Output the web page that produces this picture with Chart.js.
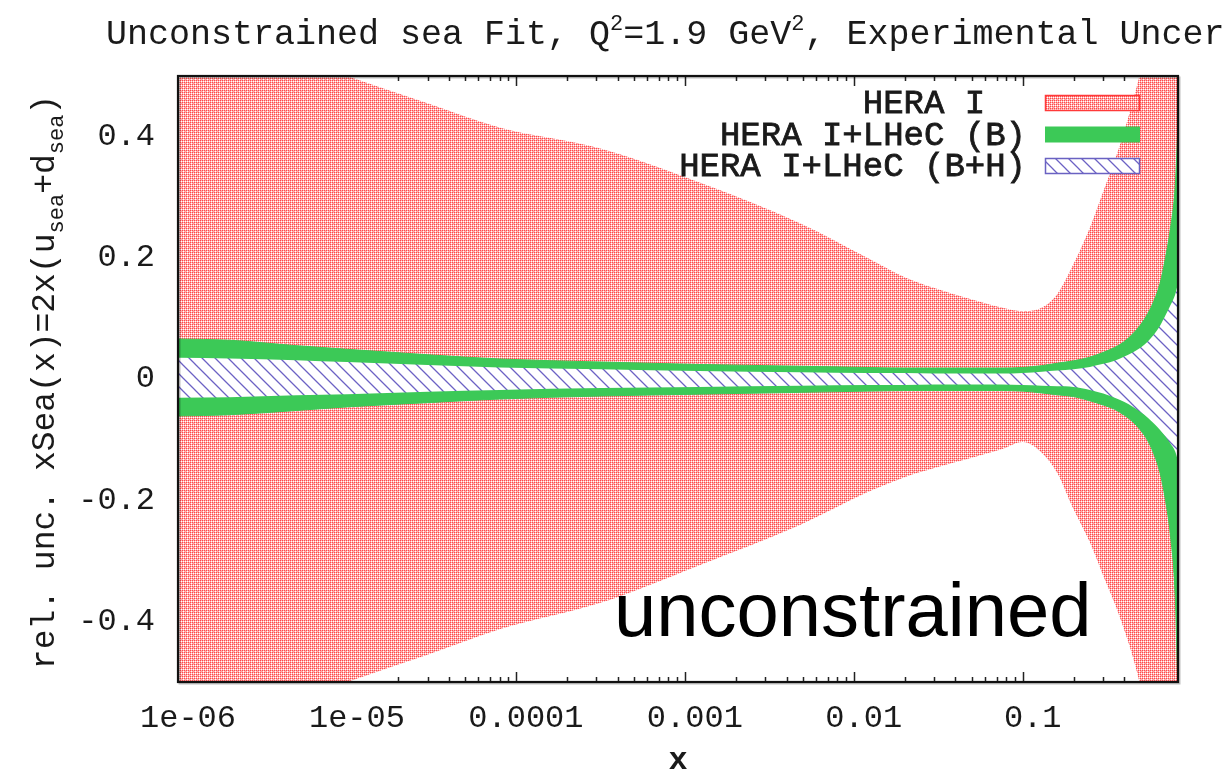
<!DOCTYPE html>
<html>
<head>
<meta charset="utf-8">
<script src="https://cdn.jsdelivr.net/npm/chart.js@4.4.1/dist/chart.umd.min.js"></script>
<style>
html,body{margin:0;padding:0;background:#ffffff;}
#wrap{width:1228px;height:773px;position:relative;}
</style>
</head>
<body>
<div id="wrap"><canvas id="c" width="1228" height="773"></canvas></div>
<script>
// ---- data ----
const xValues   = [1e-6, 2e-6, 5e-6, 1e-5, 3e-5, 8e-5, 3.2e-4, 1.2e-3, 4.8e-3, 0.012, 0.02, 0.03, 0.05, 0.075, 0.1, 0.13, 0.16, 0.2, 0.25, 0.3, 0.35, 0.4, 0.45, 0.5, 0.55, 0.6, 0.65, 0.7, 0.75, 0.8, 0.83];
const heraUpper = [0.60, 0.57, 0.53, 0.50, 0.455, 0.415, 0.38, 0.325, 0.257, 0.200, 0.168, 0.150, 0.131, 0.118, 0.112, 0.118, 0.140, 0.19, 0.25, 0.31, 0.36, 0.41, 0.46, 0.51, 0.57, 0.63, 0.70, 0.78, 0.86, 0.95, 1.0];
const heraLower = [-0.60, -0.57, -0.53, -0.50, -0.455, -0.413, -0.369, -0.308, -0.241, -0.187, -0.162, -0.147, -0.130, -0.116, -0.104, -0.122, -0.155, -0.215, -0.27, -0.325, -0.37, -0.415, -0.46, -0.51, -0.57, -0.63, -0.70, -0.78, -0.86, -0.95, -1.0];
const bUpper    = [0.066, 0.064, 0.055, 0.049, 0.040, 0.033, 0.028, 0.024, 0.021, 0.019, 0.018, 0.018, 0.018, 0.018, 0.019, 0.022, 0.026, 0.030, 0.036, 0.044, 0.052, 0.062, 0.075, 0.090, 0.108, 0.130, 0.158, 0.20, 0.25, 0.32, 0.42];
const bLower    = [-0.061, -0.059, -0.052, -0.046, -0.039, -0.033, -0.028, -0.025, -0.022, -0.020, -0.019, -0.019, -0.019, -0.019, -0.020, -0.023, -0.026, -0.029, -0.036, -0.043, -0.050, -0.060, -0.071, -0.085, -0.102, -0.125, -0.155, -0.20, -0.26, -0.36, -0.52];
const bhUpper   = [0.035, 0.034, 0.031, 0.028, 0.023, 0.019, 0.016, 0.013, 0.011, 0.010, 0.010, 0.009, 0.009, 0.009, 0.010, 0.012, 0.014, 0.016, 0.020, 0.025, 0.030, 0.037, 0.044, 0.052, 0.062, 0.074, 0.088, 0.105, 0.122, 0.14, 0.158];
const bhLower   = [-0.031, -0.030, -0.027, -0.025, -0.021, -0.018, -0.015, -0.013, -0.011, -0.010, -0.010, -0.009, -0.009, -0.009, -0.010, -0.011, -0.012, -0.013, -0.018, -0.024, -0.031, -0.038, -0.046, -0.055, -0.064, -0.074, -0.084, -0.095, -0.107, -0.12, -0.135];

const seriesLabels = ['HERA I  ', 'HERA I+LHeC (B)', 'HERA I+LHeC (B+H)'];
const xTickValues = [1e-6, 1e-5, 1e-4, 1e-3, 1e-2, 1e-1];
const xTickLabels = ['1e-06', '1e-05', '0.0001', '0.001', '0.01', '0.1'];
const yTickValues = [-0.4, -0.2, 0, 0.2, 0.4];
const yTickLabels = ['-0.4', '-0.2', '0', '0.2', '0.4'];
const xMin = 1e-6, xMax = 0.83, yMin = -0.5, yMax = 0.5;

// ---- fills ----
const canvas = document.getElementById('c');
const ctx0 = canvas.getContext('2d');
function redPattern() {
  const c = document.createElement('canvas'); c.width = 4; c.height = 4;
  const g = c.getContext('2d');
  g.fillStyle = '#ffaaaa'; g.fillRect(0, 0, 4, 4);
  g.fillStyle = '#ff4a4a';
  g.fillRect(0, 0, 1, 1); g.fillRect(2, 2, 1, 1); g.fillRect(2, 0, 1, 1); g.fillRect(0, 2, 1, 1);
  g.fillStyle = '#ffffff';
  g.fillRect(1, 1, 1, 1); g.fillRect(3, 3, 1, 1); g.fillRect(3, 1, 1, 1);
  return ctx0.createPattern(c, 'repeat');
}
function hatchPattern() {
  const s = 13;
  const c = document.createElement('canvas'); c.width = s; c.height = s;
  const g = c.getContext('2d');
  g.fillStyle = '#ffffff'; g.fillRect(0, 0, s, s);
  g.strokeStyle = '#6c62c4'; g.lineWidth = 1.3;
  g.beginPath();
  for (let k = -1; k <= 1; k++) { g.moveTo(k * s - 1, -1); g.lineTo(k * s + s + 1, s + 1); }
  g.stroke();
  return ctx0.createPattern(c, 'repeat');
}
const RED = redPattern();
const HATCH = hatchPattern();
const GREEN = '#3cc957';

function pts(ys) { return xValues.map((x, i) => ({ x: x, y: ys[i] })); }
const common = { pointRadius: 0, cubicInterpolationMode: 'monotone', borderWidth: 1 };

const MONO = '"Liberation Mono", "DejaVu Sans Mono", monospace';

function drawRich(ctx, parts, x, y, big, small) {
  let cx = x;
  for (const p of parts) {
    ctx.font = p.s ? small : big;
    const dy = p.s === 'sub' ? 9 : (p.s === 'sup' ? -14 : 0);
    ctx.fillText(p.t, cx, y + dy);
    cx += ctx.measureText(p.t).width;
  }
  return cx - x;
}
function richWidth(ctx, parts, big, small) {
  let w = 0;
  for (const p of parts) { ctx.font = p.s ? small : big; w += ctx.measureText(p.t).width; }
  return w;
}

const framePlugin = {
  id: 'frame',
  beforeDatasetsDraw(chart) {
    const { ctx, chartArea: a, scales: { x, y } } = chart;
    ctx.save();
    ctx.strokeStyle = '#222'; ctx.lineWidth = 1.5;
    ctx.beginPath();
    for (let e = -6; e <= -1; e++) {
      for (let m = 1; m <= 9; m++) {
        const v = m * Math.pow(10, e);
        if (v > xMax) continue;
        const px = Math.round(x.getPixelForValue(v)) + 0.5;
        const L = m === 1 ? 10 : 5;
        ctx.moveTo(px, a.bottom); ctx.lineTo(px, a.bottom - L);
        ctx.moveTo(px, a.top); ctx.lineTo(px, a.top + L);
      }
    }
    yTickValues.forEach(v => {
      const py = Math.round(y.getPixelForValue(v)) + 0.5;
      ctx.moveTo(a.left, py); ctx.lineTo(a.left + 10, py);
      ctx.moveTo(a.right, py); ctx.lineTo(a.right - 10, py);
    });
    ctx.stroke();
    ctx.restore();
  },
  afterDatasetsDraw(chart) {
    const { ctx, chartArea: a } = chart;
    ctx.save();
    ctx.strokeStyle = 'rgba(0,0,0,0.25)'; ctx.lineWidth = 2;
    ctx.strokeRect(a.left + 1.5, a.top + 1.5, a.right - a.left, a.bottom - a.top);
    ctx.strokeStyle = '#111'; ctx.lineWidth = 2.2;
    ctx.strokeRect(a.left, a.top, a.right - a.left, a.bottom - a.top);
    ctx.restore();
  },
  afterDraw(chart) {
    const { ctx, chartArea: a } = chart;
    ctx.save();
    ctx.fillStyle = '#1a1a1a';
    ctx.textBaseline = 'alphabetic';
    ctx.textAlign = 'left';
    // title (the source image is cut off at its right edge)
    const tBig = '35px ' + MONO, tSmall = '22px ' + MONO;
    drawRich(ctx, [
      { t: 'Unconstrained sea Fit, Q' }, { t: '2', s: 'sup' }, { t: '=1.9 GeV' }, { t: '2', s: 'sup' },
      { t: ', Experimental Uncer' }
    ], 106, 44, tBig, tSmall);

    // y axis title (rotated)
    const yBig = '33px ' + MONO, ySmall = '22px ' + MONO;
    const yParts = [{ t: 'rel. unc. xSea(x)=2x(u' }, { t: 'sea', s: 'sub' }, { t: '+d' }, { t: 'sea', s: 'sub' }, { t: ')' }];
    const w = richWidth(ctx, yParts, yBig, ySmall);
    const cy = (a.top + a.bottom) / 2 + 3;
    ctx.save();
    ctx.translate(54, cy + w / 2);
    ctx.rotate(-Math.PI / 2);
    drawRich(ctx, yParts, 0, 0, yBig, ySmall);
    ctx.restore();

    // x axis title
    ctx.font = 'bold 32px ' + MONO;
    ctx.textAlign = 'center';
    ctx.fillText('x', (a.left + a.right) / 2, 769);

    // legend
    ctx.font = '34px ' + MONO;
    ctx.textAlign = 'right';
    ctx.textBaseline = 'middle';
    const fills = [RED, GREEN, HATCH];
    const strokes = ['#ff3a3a', null, '#6a62c2'];
    const sx0 = a.right - 133, sx1 = a.right - 38;
    for (let i = 0; i < seriesLabels.length; i++) {
      const ry = a.top + 27 + i * 31.5;
      ctx.fillStyle = '#1a1a1a';
      ctx.strokeStyle = '#1a1a1a'; ctx.lineWidth = 0.8;
      ctx.fillText(seriesLabels[i], a.right - 152, ry + 1);
      ctx.strokeText(seriesLabels[i], a.right - 152, ry + 1);
      ctx.fillStyle = fills[i];
      ctx.fillRect(sx0, ry - 8, sx1 - sx0, 16);
      if (strokes[i]) {
        ctx.strokeStyle = strokes[i]; ctx.lineWidth = 1.5;
        ctx.strokeRect(sx0 + 0.5, ry - 8 + 0.5, sx1 - sx0 - 1, 15);
      }
    }

    // annotation
    ctx.fillStyle = '#000';
    ctx.textAlign = 'left';
    ctx.textBaseline = 'alphabetic';
    ctx.font = '76px "Liberation Sans", Arial, sans-serif';
    ctx.fillText('unconstrained', 614, 636);
    ctx.restore();
  }
};

const tickFont = { family: MONO, size: 32 };

new Chart(canvas, {
  type: 'line',
  data: {
    datasets: [
      Object.assign({ label: seriesLabels[0], data: pts(heraUpper), fill: '+1', backgroundColor: RED, borderColor: 'rgba(0,0,0,0)', order: 3 }, common),
      Object.assign({ label: seriesLabels[0] + ' low', data: pts(heraLower), fill: false, borderColor: 'rgba(0,0,0,0)', order: 3 }, common),
      Object.assign({ label: seriesLabels[1], data: pts(bUpper), fill: '+1', backgroundColor: GREEN, borderColor: GREEN, order: 2 }, common),
      Object.assign({ label: seriesLabels[1] + ' low', data: pts(bLower), fill: false, borderColor: GREEN, order: 2 }, common),
      Object.assign({ label: seriesLabels[2], data: pts(bhUpper), fill: '+1', backgroundColor: HATCH, borderColor: 'rgba(0,0,0,0)', order: 1 }, common),
      Object.assign({ label: seriesLabels[2] + ' low', data: pts(bhLower), fill: false, borderColor: 'rgba(0,0,0,0)', order: 1 }, common)
    ]
  },
  options: {
    responsive: false,
    animation: false,
    devicePixelRatio: 1,
    events: [],
    layout: { padding: { top: 76, right: 50, bottom: 0, left: 0 } },
    plugins: { legend: { display: false }, title: { display: false }, tooltip: { enabled: false } },
    scales: {
      x: {
        type: 'logarithmic', min: xMin, max: xMax,
        grid: { display: false, drawTicks: false }, border: { display: false },
        afterBuildTicks: s => { s.ticks = xTickValues.map(v => ({ value: v })); },
        afterFit: s => { s.height = 91; },
        ticks: { autoSkip: false, maxRotation: 0, minRotation: 0, padding: 17, labelOffset: 10, font: tickFont, color: '#1a1a1a',
          callback: (v, i) => xTickLabels[i] }
      },
      y: {
        min: yMin, max: yMax,
        grid: { display: false, drawTicks: false }, border: { display: false },
        afterBuildTicks: s => { s.ticks = yTickValues.map(v => ({ value: v })); },
        afterFit: s => { s.width = 178; },
        ticks: { autoSkip: false, padding: 23, font: tickFont, color: '#1a1a1a',
          callback: (v, i) => yTickLabels[i] }
      }
    }
  },
  plugins: [framePlugin]
});
</script>
</body>
</html>
